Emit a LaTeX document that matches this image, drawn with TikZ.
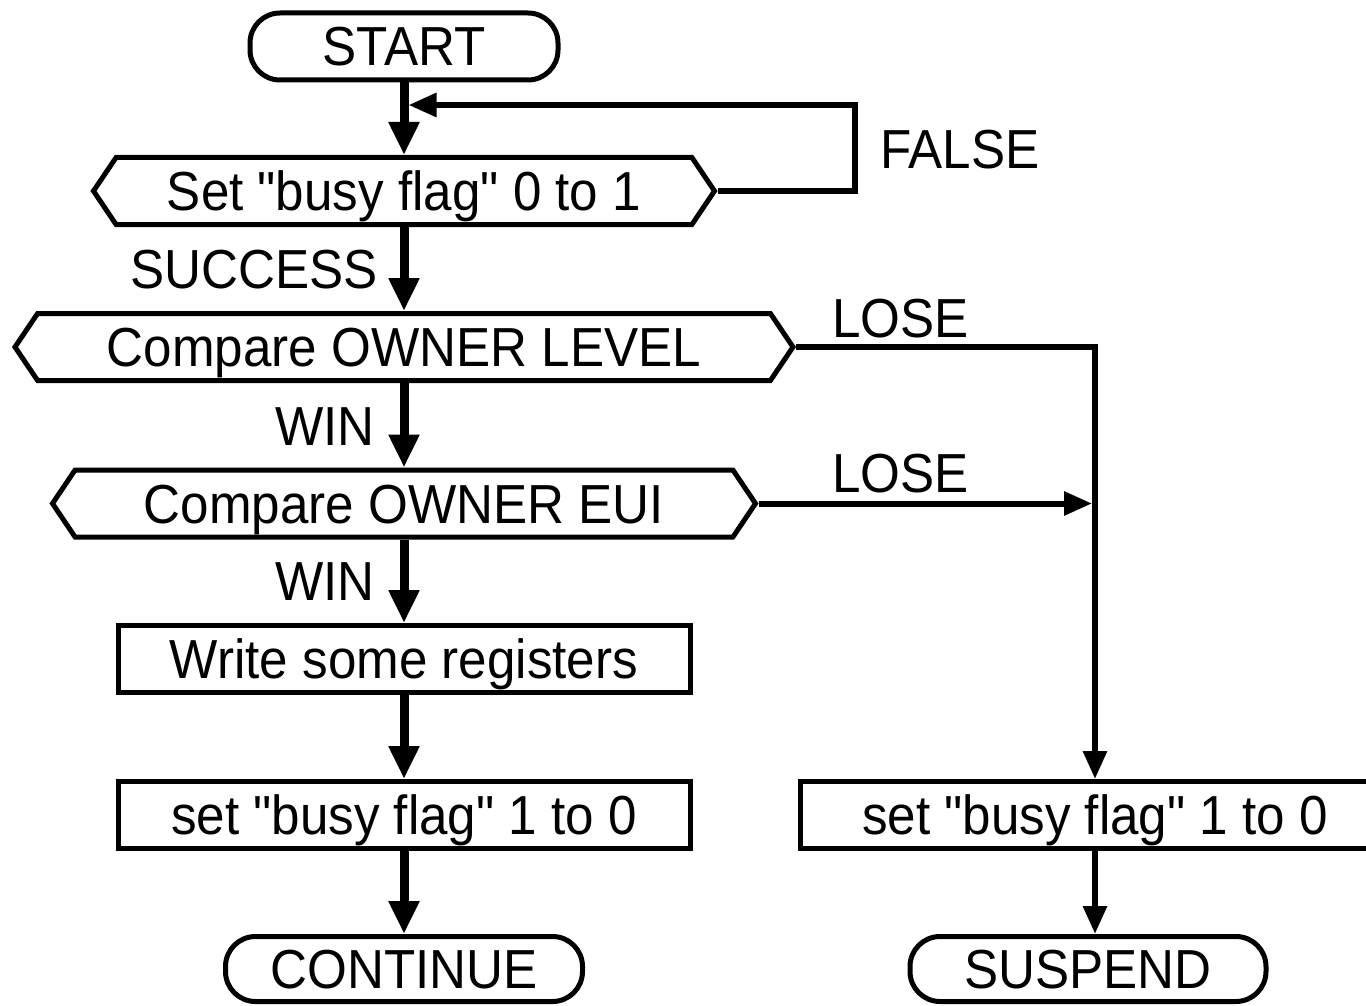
\documentclass[tikz,border=0pt]{standalone}
\usepackage{fontspec}
\setmainfont{Liberation Sans}[FakeStretch=0.93, Ligatures=TeXOff]
\usetikzlibrary{arrows.meta,shapes.symbols,positioning}
\tikzset{
  box/.style={draw, line width=5pt, minimum width=#1, minimum height=67pt, inner sep=0pt,
    text height=39pt, text depth=0pt},
  term/.style={box=#1, rounded corners=30pt},
  test/.style={box=#1, signal, signal to=east and west, signal pointer angle=112},
  flow/.style={line width=9pt, -{Triangle[length=33pt,width=29pt]}},
  side/.style={line width=6pt, -{Triangle[length=28pt,width=23pt]}},
  lbl/.style={inner sep=0pt}
}
\begin{document}
\begin{tikzpicture}[x=1pt, y=-1pt, font=\fontsize{55}{66}\selectfont]
    \clip (0,0) rectangle (1366,1006);

    % left column
    \node [term=308pt] (start) at (404,46.5) {START};
    \node [test=621pt] (set) at (404,191) {Set "busy flag" 0 to 1};
    \node [test=778pt] (lvl) at (404,347) {Compare OWNER LEVEL};
    \node [test=703pt] (eui) at (404,503.5) {Compare OWNER EUI};
    \node [box=572pt] (wr) at (404,659) {Write some registers};
    \node [box=572pt] (clr) at (404,815) {set "busy flag" 1 to 0};
    \node [term=357pt, minimum height=65pt] (cont) at (404,969) {CONTINUE};

    % right column
    \node [box=589pt] (clrlose) at (1095,815) {set "busy flag" 1 to 0};
    \node [term=356pt, minimum height=65pt] (susp) at (1088,969) {SUSPEND};
    \coordinate (loop) at (855,105);

    % draw arrows
    \draw [flow] (start.south) -- (set.north);
    \draw [flow] (set.south) -- (lvl.north);
    \draw [flow] (lvl.south) -- (eui.north);
    \draw [flow] (eui.south) -- (wr.north);
    \draw [flow] (wr.south) -- (clr.north);
    \draw [flow] (clr.south) -- (cont.north);
    \draw [side] (set.east) -| (loop) -- ([xshift=4.5pt]loop -| start.south);
    \draw [side] (lvl.east) -| (clrlose.north);
    \draw [side] (eui.east) -- ([xshift=-3pt]eui.east -| clrlose.north);
    \draw [side] (clrlose.south) -- (clrlose.south |- susp.north);

    % add labels
    \node [lbl, anchor=base east] (success) at (378,288) {SUCCESS};
    \node [lbl, anchor=base east] (win1) at (375,445) {WIN};
    \node [lbl, anchor=base east] (win2) at (375,600) {WIN};
    \node [lbl, anchor=base west] (false) at (880,168) {FALSE};
    \node [lbl, anchor=base west] (lose1) at (832,337) {LOSE};
    \node [lbl, anchor=base west] (lose2) at (832,492) {LOSE};
\end{tikzpicture}
\end{document}
